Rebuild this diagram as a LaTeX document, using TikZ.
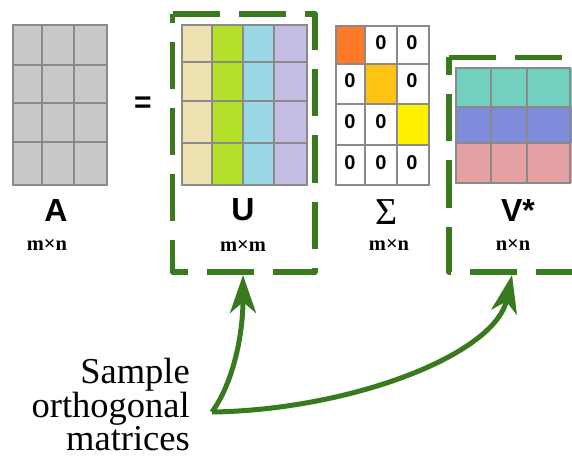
\documentclass[tikz,border=0pt]{standalone}
\usepackage{fontspec}
\setmainfont{Liberation Serif}
\setsansfont{Liberation Sans}
\usetikzlibrary{arrows.meta}
\definecolor{gridgray}{HTML}{8A8A8A}
\definecolor{cellgray}{HTML}{C8C8C8}
\definecolor{ubeige}{HTML}{EEE2B2}
\definecolor{ulime}{HTML}{B4E02A}
\definecolor{ublue}{HTML}{9BD8E6}
\definecolor{ulav}{HTML}{C6BDE3}
\definecolor{sorange}{HTML}{FF7A28}
\definecolor{samber}{HTML}{FFC413}
\definecolor{syellow}{HTML}{FFF100}
\definecolor{vteal}{HTML}{72D0BF}
\definecolor{vblue}{HTML}{7E8CDB}
\definecolor{vpink}{HTML}{E4A1A3}
\definecolor{boxgreen}{HTML}{3A7A1F}
\begin{document}
\begin{tikzpicture}[x=1pt,y=-1pt,
  gridline/.style={draw=gridgray,line width=2pt},
  matname/.style={font=\sffamily\bfseries\fontsize{32}{32}\selectfont, inner sep=0pt},
  dimlabel/.style={font=\bfseries\fontsize{20.5}{20.5}\selectfont, inner sep=0pt},
  zero/.style={font=\sffamily\bfseries\fontsize{20}{20}\selectfont, inner sep=0pt},
  selbox/.style={draw=boxgreen,line width=5.5pt,dash pattern=on 47pt off 19pt,line join=round},
  arrowline/.style={draw=boxgreen,line width=5pt,-{Stealth[length=38pt,width=26pt,inset=11pt]}}
]
\useasboundingbox (0,0) rectangle (572,457);
\clip (0,0) rectangle (572,457);

% ---- matrix A ----
\fill[cellgray] (13,25) rectangle (107,185);
\foreach \x in {42,74} \draw[gridline] (\x,25) -- (\x,185);
\foreach \y in {65,103,142} \draw[gridline] (13,\y) -- (107,\y);
\draw[gridline] (13,25) rectangle (107,185);
\node[matname] (Aname) at (56,210) {A};
\node[dimlabel] (Adim) at (47,245) {m×n};

\node[font=\sffamily\bfseries\fontsize{30}{30}\selectfont, inner sep=0pt] (eq) at (143,105) {=};

% ---- matrix U ----
\fill[ubeige] (182,25) rectangle (212,185);
\fill[ulime] (212,25) rectangle (243,185);
\fill[ublue] (243,25) rectangle (274,185);
\fill[ulav] (274,25) rectangle (307,185);
\foreach \x in {212,243,274} \draw[gridline] (\x,25) -- (\x,185);
\foreach \y in {62,101,143} \draw[gridline] (182,\y) -- (307,\y);
\draw[gridline] (182,25) rectangle (307,185);
\node[matname] (Uname) at (243,210) {U};
\node[dimlabel] (Uim) at (243,246) {m×m};

% ---- matrix Sigma ----
\fill[sorange] (336,26) rectangle (365,64);
\fill[samber] (365,64) rectangle (397,104);
\fill[syellow] (397,104) rectangle (429,145);
\foreach \x in {365,397} \draw[gridline] (\x,26) -- (\x,185);
\foreach \y in {64,104,145} \draw[gridline] (336,\y) -- (429,\y);
\draw[gridline] (336,26) rectangle (429,185);
\node[zero] (s12) at (381,43) {0};
\node[zero] (s13) at (412,43) {0};
\node[zero] (s21) at (350,81) {0};
\node[zero] (s23) at (412,81) {0};
\node[zero] (s31) at (350,122) {0};
\node[zero] (s32) at (381,122) {0};
\node[zero] (s41) at (350,163) {0};
\node[zero] (s42) at (381,163) {0};
\node[zero] (s43) at (412,163) {0};
\node[font=\fontsize{38}{38}\selectfont, inner sep=0pt] (Sname) at (387,212) {Σ};
\node[dimlabel] (Sdim) at (389,245) {m×n};

% ---- matrix V* ----
\fill[vteal] (456,68) rectangle (572,107);
\fill[vblue] (456,107) rectangle (572,143);
\fill[vpink] (456,143) rectangle (572,183);
\foreach \x in {491,527} \draw[gridline] (\x,68) -- (\x,183);
\foreach \y in {107,143} \draw[gridline] (456,\y) -- (570,\y);
\draw[gridline] (456,68) rectangle (570,183);
\node[matname] (Vname) at (518,210) {V*};
\node[dimlabel] (Vdim) at (513,245) {n×n};

% ---- dashed selection boxes ----
\draw[selbox] (172.5,14) -- (315,14) -- (315,272) -- (172.5,272) -- cycle;
\draw[selbox] (449,57.5) -- (600,57.5);
\draw[selbox,dash phase=29pt] (449,57.5) -- (449,272) -- (600,272);
\coordinate (utip) at (243,275);
\coordinate (vtip) at (512,275);

% ---- caption and arrows ----
\node[anchor=north east, align=right, inner sep=0pt, font=\fontsize{36.5}{33.5}\selectfont] (caption) at (190,358) {Sample\\orthogonal\\matrices};
\coordinate (src) at (212,412);
\draw[arrowline] (src) .. controls (235,380) and (243,330) .. (utip);
\draw[arrowline] (src) .. controls (350,410) and (495,355) .. (vtip);
\end{tikzpicture}
\end{document}
